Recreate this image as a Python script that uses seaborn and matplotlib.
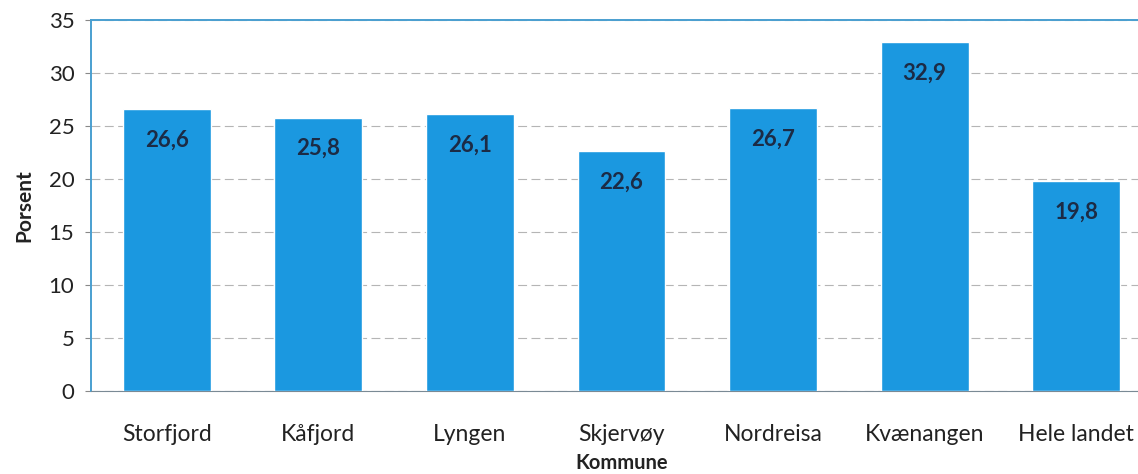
import matplotlib
matplotlib.use("Agg")
import matplotlib.pyplot as plt
import seaborn as sns
import pandas as pd

kommuner = ["Storfjord", "Kåfjord", "Lyngen", "Skjervøy", "Nordreisa", "Kvænangen", "Hele landet"]
prosent = [26.6, 25.8, 26.1, 22.6, 26.7, 32.9, 19.8]
y_ticks = [0, 5, 10, 15, 20, 25, 30, 35]

sns.set_style("white")
plt.rcParams["font.family"] = ["Lato", "DejaVu Sans"]

df = pd.DataFrame({"Kommune": kommuner, "Porsent": prosent})

fig = plt.figure(figsize=(11.38, 4.74), dpi=100)
ax = fig.add_axes([91 / 1138, 83 / 474, 1061 / 1138, 371 / 474])

sns.barplot(data=df, x="Kommune", y="Porsent", color="#1b98e0", saturation=1,
            width=0.58, ax=ax, zorder=3)

for i, v in enumerate(prosent):
    ax.text(i, v - 2.9, f"{v:.1f}".replace(".", ","), ha="center", va="center",
            fontsize=16, fontweight="bold", color="#1c2b45", zorder=4)

ax.set_ylim(0, 35)
ax.set_xlim(-0.5, 6.5)
ax.set_yticks(y_ticks)
ax.yaxis.grid(True, color="#b5b5b5", linestyle=(0, (8, 4)), linewidth=0.8, zorder=0)
ax.tick_params(axis="y", labelsize=16, left=True, length=4, color="#888888", pad=8)
ax.tick_params(axis="x", labelsize=16.5, bottom=False, pad=20)
for lbl in ax.get_yticklabels() + ax.get_xticklabels():
    lbl.set_color("#222222")

for side in ["left", "top"]:
    ax.spines[side].set_color("#4a9fd0")
    ax.spines[side].set_linewidth(1.4)
ax.spines["bottom"].set_color("#7a8a95")
ax.spines["right"].set_visible(False)

ax.set_ylabel("Porsent", fontsize=15, fontweight="bold", color="#222222", labelpad=10)
ax.set_xlabel("Kommune", fontsize=14.5, fontweight="bold", color="#222222", labelpad=6)

fig.savefig("out.png", dpi=100)
